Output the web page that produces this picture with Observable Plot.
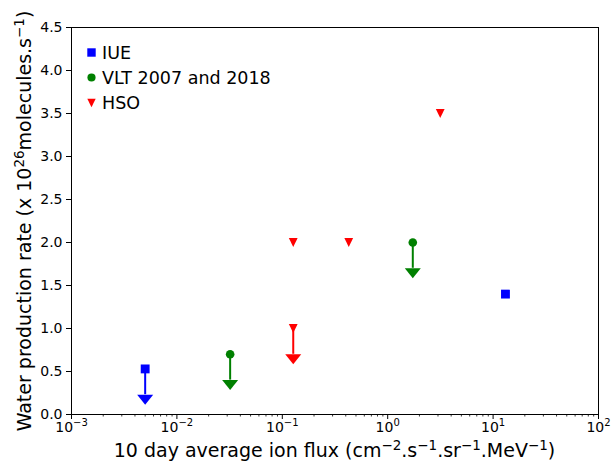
<!DOCTYPE html>
<html>
<head>
<meta charset="utf-8">
<script src="https://cdn.jsdelivr.net/npm/d3@7"></script>
<script src="https://cdn.jsdelivr.net/npm/@observablehq/plot@0.6"></script>
<style>
  html, body { margin: 0; padding: 0; background: white; }
  #chart { width: 611px; height: 461px; }
  svg { font-family: "DejaVu Sans", sans-serif; }
</style>
</head>
<body>
<div id="chart"></div>
<script>
// ---- Data ----
const iueFlux = [0.005, 13.1];
const iueRate = [0.53, 1.40];
const iueUpper = [true, false];

const vltFlux = [0.032, 1.73];
const vltRate = [0.70, 2.00];
const vltUpper = [true, true];

const hsoFlux = [0.127, 0.427, 3.15, 0.127];
const hsoRate = [2.00, 2.00, 3.50, 1.00];
const hsoUpper = [false, false, false, true];

const arrowLength = 0.3;

const seriesNames = ["IUE", "VLT 2007 and 2018", "HSO"];
const seriesColors = ["#0000ff", "#008000", "#ff0000"];

const xMajorTicks = [1e-3, 1e-2, 1e-1, 1e0, 1e1, 1e2];
const yTicks = [0, 0.5, 1.0, 1.5, 2.0, 2.5, 3.0, 3.5, 4.0, 4.5];

// ---- Build table ----
const points = [];
function add(series, xs, ys, ups) {
  xs.forEach((x, i) => points.push({series, x, y: ys[i], upper: ups[i]}));
}
add("IUE", iueFlux, iueRate, iueUpper);
add("VLT 2007 and 2018", vltFlux, vltRate, vltUpper);
add("HSO", hsoFlux, hsoRate, hsoUpper);
const limits = points.filter(d => d.upper).map(d => ({...d, yEnd: d.y - arrowLength}));

const minorTicks = [];
for (let e = -3; e < 2; e++) for (let k = 2; k <= 9; k++) minorTicks.push(k * Math.pow(10, e));

// ---- Custom symbols ----
const triDown = { draw(ctx, size) { const r = Math.sqrt(size / Math.PI);
  ctx.moveTo(-r, -r); ctx.lineTo(r, -r); ctx.lineTo(0, r); ctx.closePath(); } };
const caretDown = { draw(ctx, size) { const s = Math.sqrt(size / Math.PI);
  ctx.moveTo(-8 * s, 0); ctx.lineTo(8 * s, 0); ctx.lineTo(0, 10 * s); ctx.closePath(); } };
const symbolFor = {"IUE": "square", "VLT 2007 and 2018": "circle", "HSO": triDown};
const rFor = {"IUE": 5.0, "VLT 2007 and 2018": 4.3, "HSO": 4.4};
const colorFor = Object.fromEntries(seriesNames.map((s, i) => [s, seriesColors[i]]));

const plot = Plot.plot({
  width: 611,
  height: 461,
  marginLeft: 71,
  marginRight: 13,
  marginTop: 27,
  marginBottom: 47,
  style: {fontFamily: "DejaVu Sans", color: "black", background: "white"},
  x: {type: "log", domain: [1e-3, 1e2]},
  y: {domain: [0, 4.5]},
  marks: [
    Plot.axisY({ticks: yTicks, tickFormat: d3.format(".1f"), tickSize: 5, tickPadding: 4, fontSize: 14, label: null, strokeWidth: 1}),
    Plot.axisX({ticks: xMajorTicks, tickFormat: d => String(Math.round(Math.log10(d))), tickSize: 5, tickPadding: 3, fontSize: 14, label: null, strokeWidth: 1}),
    Plot.axisX({ticks: minorTicks, tickFormat: () => "", tickSize: 2.5, label: null, strokeWidth: 0.8}),
    Plot.ruleX(limits, {x: "x", y1: "y", y2: "yEnd", stroke: d => colorFor[d.series], strokeWidth: 2}),
    Plot.dot(limits, {x: "x", y: "yEnd", symbol: () => caretDown, r: 1, fill: d => colorFor[d.series], stroke: "none"}),
    ...seriesNames.map(s => Plot.dot(points.filter(d => d.series === s), {
      x: "x", y: "y", symbol: symbolFor[s], r: rFor[s], fill: colorFor[s], stroke: "none"
    })),
    Plot.frame({stroke: "black", strokeWidth: 1})
  ]
});

document.getElementById("chart").appendChild(plot);
const svg = d3.select(plot);

// superscript exponents on x tick labels (major ticks only)
svg.selectAll('g[aria-label="x-axis tick label"] text').each(function() {
  const t = d3.select(this);
  const raw = t.text();
  if (!raw) { t.remove(); return; }
  const e = raw.replace("-", "\u2212");
  t.text("10");
  t.append("tspan").attr("dy", "-6px").attr("font-size", "10px").text(e);
});

// helper: text with superscripts, parts = [[base, sup], ...]
function richText(sel, parts, fs, sfs, shift) {
  let raised = false;
  parts.forEach(([base, sup]) => {
    if (base) {
      sel.append("tspan").attr("dy", raised ? `${shift}px` : "0px").text(base);
      raised = false;
    }
    if (sup) {
      sel.append("tspan").attr("dy", raised ? "0px" : `${-shift}px`).attr("font-size", sfs).text(sup);
      raised = true;
    }
  });
}

// Axis labels
const yl = svg.append("text")
  .attr("transform", "translate(31,221) rotate(-90)")
  .attr("text-anchor", "middle")
  .attr("font-size", 19)
  .attr("fill", "black");
richText(yl, [["Water production rate (x 10", "26"], ["molecules.s", "\u22121"], [")", null]], 19, 13.5, 7.5);

const xl = svg.append("text")
  .attr("x", 334.5).attr("y", 457)
  .attr("text-anchor", "middle")
  .attr("font-size", 19)
  .attr("fill", "black");
richText(xl, [["10 day average ion flux (cm", "\u22122"], [".s", "\u22121"], [".sr", "\u22121"], [".MeV", "\u22121"], [")", null]], 19, 13.5, 7.5);

// Legend
const legend = svg.append("g").attr("text-anchor", "start");
const legendRowsY = [52.5, 77.5, 103];
seriesNames.forEach((s, i) => {
  const sym = symbolFor[s] === "square" ? d3.symbolSquare : symbolFor[s] === "circle" ? d3.symbolCircle : triDown;
  const r = rFor[s] * 0.95;
  legend.append("path")
    .attr("transform", `translate(91.5,${legendRowsY[i]})`)
    .attr("d", d3.symbol(sym, r * r * Math.PI)())
    .attr("fill", colorFor[s]);
  legend.append("text")
    .attr("x", 102).attr("y", legendRowsY[i])
    .attr("dy", "0.36em")
    .attr("text-anchor", "start")
    .attr("font-size", 17.5)
    .attr("fill", "black")
    .text(s);
});
</script>
</body>
</html>
